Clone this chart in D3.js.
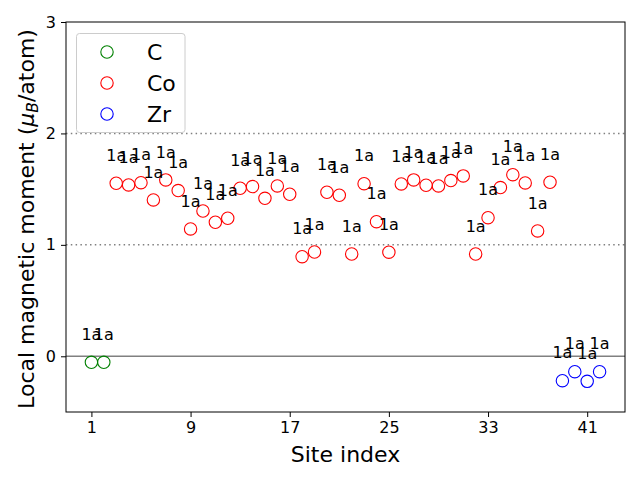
<!DOCTYPE html>
<html>
<head>
<meta charset="utf-8">
<script src="https://cdn.jsdelivr.net/npm/d3@7"></script>
<style>
  body { margin: 0; background: #fff; }
  text { font-family: "DejaVu Sans", sans-serif; }
</style>
</head>
<body>
<svg id="chart" width="640" height="480"></svg>
<script>
// site index and moment per element
var c_sites = [1, 2];
var c_moments = [-0.054, -0.054];

var co_sites = [3, 4, 5, 6, 7, 8, 9, 10, 11, 12, 13, 14, 15, 16, 17, 18, 19, 20, 21, 22,
                23, 24, 25, 26, 27, 28, 29, 30, 31, 32, 33, 34, 35, 36, 37, 38];
var co_moments = [1.553, 1.538, 1.558, 1.403, 1.583, 1.487, 1.143, 1.304, 1.203, 1.239,
                  1.508, 1.523, 1.418, 1.529, 1.454, 0.894, 0.936, 1.472, 1.445, 0.918,
                  1.549, 1.208, 0.934, 1.547, 1.583, 1.535, 1.529, 1.577, 1.619, 0.918,
                  1.244, 1.514, 1.630, 1.556, 1.125, 1.562];

var zr_sites = [39, 40, 41, 42];
var zr_moments = [-0.219, -0.138, -0.225, -0.138];

var wyckoff = "1a";
var x_ticks = [1, 9, 17, 25, 33, 41];
var y_ticks = [0, 1, 2, 3];
var ref_lines = [1, 2];

var groups = [
    {name: "C", color: "green", sites: c_sites, moments: c_moments},
    {name: "Co", color: "red", sites: co_sites, moments: co_moments},
    {name: "Zr", color: "blue", sites: zr_sites, moments: zr_moments}
];

var svg = d3.select("#chart");
var border_left = 66, border_right = 625, border_top = 22, border_bottom = 412;

var x = d3.scaleLinear().domain([-1.05, 44.05]).range([border_left, border_right]);
var y = d3.scaleLinear().domain([-0.5, 3]).range([border_bottom, border_top]);

// horizontal reference lines
svg.append("line")
    .attr("x1", border_left).attr("x2", border_right)
    .attr("y1", y(0)).attr("y2", y(0))
    .attr("stroke", "gray").attr("stroke-width", 1.5);

svg.selectAll(".ref_line")
    .data(ref_lines)
    .enter().append("line")
    .attr("class", "ref_line")
    .attr("x1", border_left).attr("x2", border_right)
    .attr("y1", function(d) { return y(d); })
    .attr("y2", function(d) { return y(d); })
    .attr("stroke", "gray").attr("stroke-width", 1.5)
    .attr("stroke-dasharray", "1.5,3.3");

// markers and labels
groups.forEach(function(g) {
    var pts = g.sites.map(function(s, i) { return {site: s, m: g.moments[i]}; });
    svg.selectAll(".pt_" + g.name)
        .data(pts)
        .enter().append("circle")
        .attr("cx", function(d) { return x(d.site); })
        .attr("cy", function(d) { return y(d.m); })
        .attr("r", 6.2)
        .attr("fill", "none")
        .attr("stroke", g.color)
        .attr("stroke-width", 1.1);
});

groups.forEach(function(g) {
    var pts = g.sites.map(function(s, i) { return {site: s, m: g.moments[i]}; });
    svg.selectAll(".lab_" + g.name)
        .data(pts)
        .enter().append("text")
        .attr("x", function(d) { return x(d.site); })
        .attr("y", function(d) { return y(d.m + 0.2); })
        .attr("text-anchor", "middle")
        .attr("font-size", 16)
        .attr("fill", "black")
        .text(wyckoff);
});

// frame
svg.append("rect")
    .attr("x", border_left).attr("y", border_top)
    .attr("width", border_right - border_left).attr("height", border_bottom - border_top)
    .attr("fill", "none").attr("stroke", "black").attr("stroke-width", 1);

// axes
var xAxis = svg.append("g")
    .attr("transform", "translate(0," + border_bottom + ")")
    .call(d3.axisBottom(x).tickValues(x_ticks).tickFormat(d3.format("d")).tickSize(5).tickPadding(5));
var yAxis = svg.append("g")
    .attr("transform", "translate(" + border_left + ",0)")
    .call(d3.axisLeft(y).tickValues(y_ticks).tickFormat(d3.format("d")).tickSize(5).tickPadding(5));
[xAxis, yAxis].forEach(function(a) {
    a.select(".domain").remove();
    a.selectAll("text").attr("font-size", 16).attr("font-family", "DejaVu Sans").attr("fill", "black");
    a.selectAll("line").attr("stroke", "black");
});

// axis titles
svg.append("text")
    .attr("x", (border_left + border_right) / 2)
    .attr("y", 462)
    .attr("text-anchor", "middle")
    .attr("font-size", 22)
    .text("Site index");

var ylab = svg.append("text")
    .attr("transform", "translate(34," + ((border_top + border_bottom) / 2 + 2) + ") rotate(-90)")
    .attr("text-anchor", "middle")
    .attr("font-size", 22);
ylab.append("tspan").text("Local magnetic moment (");
ylab.append("tspan").attr("font-style", "italic").text("μ");
ylab.append("tspan").attr("font-style", "italic").attr("font-size", 15.5).attr("dy", 4).text("B");
ylab.append("tspan").attr("dy", -4).text("/atom)");

// legend
var legend = svg.append("g");
legend.append("rect")
    .attr("x", 76.5).attr("y", 33.5)
    .attr("width", 108.5).attr("height", 99)
    .attr("rx", 3)
    .attr("fill", "white").attr("fill-opacity", 0.8)
    .attr("stroke", "#cccccc");
groups.forEach(function(g, i) {
    var cy = 52 + i * 31;
    legend.append("circle")
        .attr("cx", 107).attr("cy", cy).attr("r", 6.2)
        .attr("fill", "none").attr("stroke", g.color).attr("stroke-width", 1.1);
    legend.append("text")
        .attr("x", 147).attr("y", cy + 8)
        .attr("font-size", 22)
        .text(g.name);
});
</script>
</body>
</html>
